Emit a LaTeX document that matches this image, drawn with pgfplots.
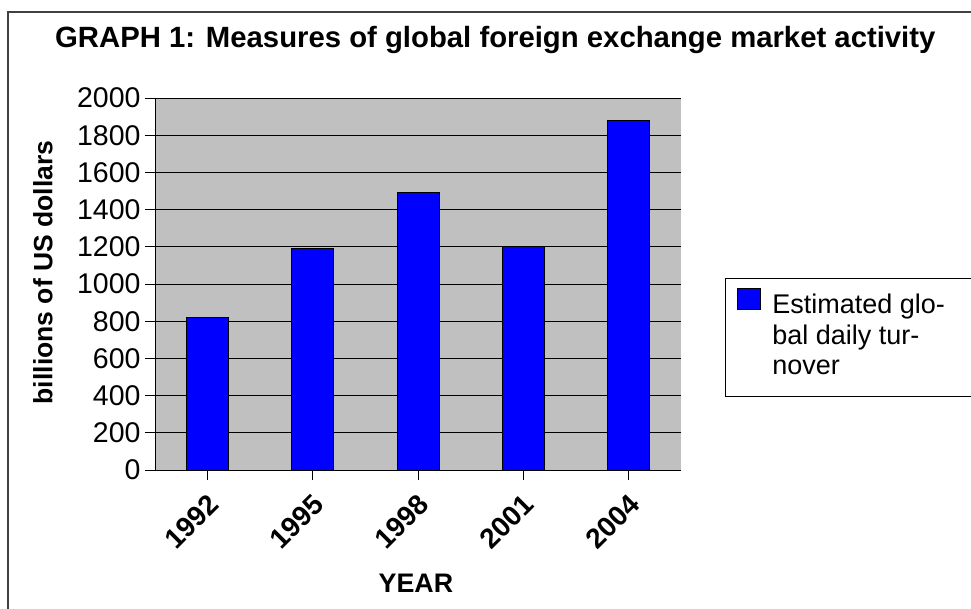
\documentclass[border=0pt]{standalone}
\usepackage{pgfplots}
\pgfplotsset{compat=1.18}
\usepackage{fontspec}
\setmainfont{Liberation Sans}
\definecolor{plotgray}{HTML}{C0C0C0}
\definecolor{barblue}{HTML}{0000FF}
\definecolor{framegray}{HTML}{404040}
\newcommand{\lstrut}{\rule[-9pt]{0pt}{34pt}\hspace*{10pt}}
\begin{document}
\begin{tikzpicture}[x=1pt,y=1pt]
\useasboundingbox (0,0) rectangle (971,608);
\draw[framegray,line width=1.3pt] (8,-5) -- (8,596) -- (980,596);
\begin{axis}[
  at={(155pt,138pt)}, anchor=south west,
  scale only axis, width=526pt, height=372pt,
  xmin=-0.5, xmax=4.5, ymin=0, ymax=2000,
  ytick={0,200,...,2000},
  xtick={0,1,2,3,4},
  xticklabels={1992,1995,1998,2001,2004},
  axis x line*=bottom, axis y line*=left,
  axis line style={black, line width=1pt, -},
  axis background/.style={fill=plotgray},
  ymajorgrids, major grid style={black, line width=0.9pt},
  tick align=outside, major tick length=10pt,
  tick style={black, line width=0.9pt},
  /pgf/number format/assume math mode=true,
  /pgf/number format/1000 sep={},
  tick label style={font=\fontsize{28.5}{34}\selectfont},
  yticklabel style={xshift=-1pt},
  xticklabel style={font=\fontsize{28}{34}\selectfont\bfseries, rotate=45, anchor=east, xshift=-6pt, yshift=-18pt},
  xlabel={YEAR},
  xlabel style={font=\fontsize{26.8}{32}\selectfont\bfseries, at={(axis description cs:0.496,-0.3306)}, anchor=base, yshift=0pt},
  ylabel={billions of US dollars},
  ylabel style={font=\fontsize{26.5}{32}\selectfont\bfseries, at={(axis description cs:-0.2129,0.531)}, anchor=center},
  title={GRAPH 1: Measures of global foreign exchange market activity},
  title style={font=\fontsize{29.3}{35}\selectfont\bfseries, at={(axis description cs:0.647,1.137)}, anchor=base, yshift=-6pt},
  ybar, bar width=42pt,
  legend cell align=left,
  legend style={at={(axis description cs:1.0837,0.516)}, anchor=north west,
    draw=black, line width=1pt, fill=white, inner xsep=11pt, inner ysep=8pt,
    font=\fontsize{27}{32}\selectfont, row sep=0pt},
  legend image code/.code={\draw[#1,draw=black,line width=0.8pt] (0pt,-8pt) rectangle (23pt,13pt);},
]
\addplot[fill=barblue, draw=black, line width=0.8pt] coordinates {(0,820) (1,1190) (2,1490) (3,1200) (4,1880)};
\addlegendentry{\lstrut Estimated glo-}
\addlegendimage{empty legend}
\addlegendentry{\lstrut bal daily tur-}
\addlegendimage{empty legend}
\addlegendentry{\lstrut nover\hspace*{120pt}}
\addlegendimage{empty legend}
\addlegendentry{\rule{0pt}{5pt}}
\end{axis}
\end{tikzpicture}
\end{document}
